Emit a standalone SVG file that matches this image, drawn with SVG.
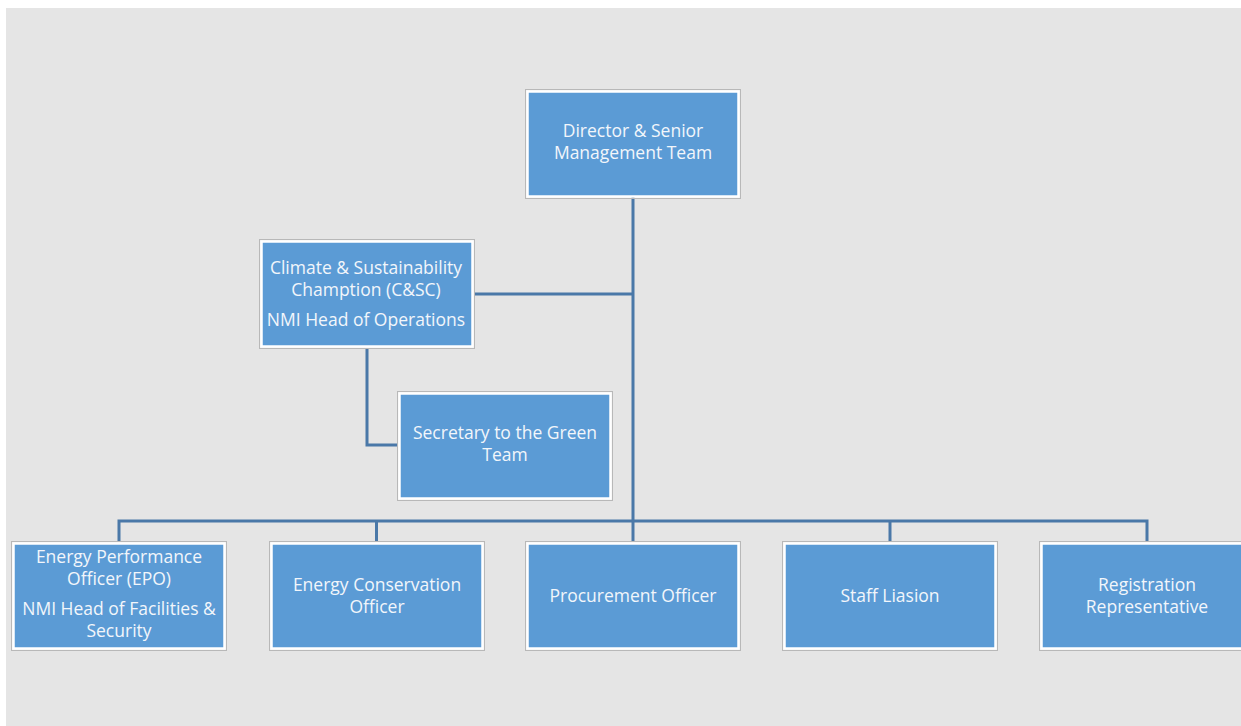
<svg xmlns="http://www.w3.org/2000/svg" width="1241" height="726" viewBox="0 0 1241 726">
<style>
.box{fill:#5b9bd5;stroke:#ffffff;stroke-width:2.5}
.frame{fill:none;stroke:#b8b8b8;stroke-width:1}
.t{font-family:"Open Sans","Liberation Sans",sans-serif;font-size:17.5px;fill:#f2f6fb;text-anchor:middle}
.c{fill:none;stroke:#4a78a8;stroke-width:3}
</style>
<rect x="0" y="0" width="1241" height="726" fill="#ffffff"/>
<rect x="6" y="8" width="1235" height="718" fill="#e5e5e5"/>
<g id="connectors">
<path class="c" d="M633 197 V521"/>
<path class="c" d="M474 294 H633"/>
<path class="c" d="M367 348 V445 H398"/>
<path class="c" d="M119 541 V521 H1147 V541"/>
<path class="c" d="M376.5 521 V541"/>
<path class="c" d="M633 521 V541"/>
<path class="c" d="M890 521 V541"/>
</g>
<g id="director">
<rect class="frame" x="525.5" y="89.5" width="215" height="109"/>
<rect class="box" x="527.5" y="91.5" width="211" height="105"/>
<text class="t" x="633" y="137">Director &amp; Senior</text>
<text class="t" x="633" y="159">Management Team</text>
</g>
<g id="climate">
<rect class="frame" x="259.5" y="239.5" width="215" height="109"/>
<rect class="box" x="261.5" y="241.5" width="211" height="105"/>
<text class="t" x="366" y="274">Climate &amp; Sustainability</text>
<text class="t" x="366" y="296">Chamption (C&amp;SC)</text>
<text class="t" x="366" y="326">NMI Head of Operations</text>
</g>
<g id="secretary">
<rect class="frame" x="397.5" y="391.5" width="215" height="109"/>
<rect class="box" x="399.5" y="393.5" width="211" height="105"/>
<text class="t" x="505" y="439">Secretary to the Green</text>
<text class="t" x="505" y="461">Team</text>
</g>
<g id="epo">
<rect class="frame" x="11.5" y="541.5" width="215" height="109"/>
<rect class="box" x="13.5" y="543.5" width="211" height="105"/>
<text class="t" x="119" y="563">Energy Performance</text>
<text class="t" x="119" y="585">Officer (EPO)</text>
<text class="t" x="119" y="615">NMI Head of Facilities &amp;</text>
<text class="t" x="119" y="637">Security</text>
</g>
<g id="eco">
<rect class="frame" x="269.5" y="541.5" width="215" height="109"/>
<rect class="box" x="271.5" y="543.5" width="211" height="105"/>
<text class="t" x="377" y="591">Energy Conservation</text>
<text class="t" x="377" y="613">Officer</text>
</g>
<g id="procurement">
<rect class="frame" x="525.5" y="541.5" width="215" height="109"/>
<rect class="box" x="527.5" y="543.5" width="211" height="105"/>
<text class="t" x="633" y="602">Procurement Officer</text>
</g>
<g id="staff">
<rect class="frame" x="782.5" y="541.5" width="215" height="109"/>
<rect class="box" x="784.5" y="543.5" width="211" height="105"/>
<text class="t" x="890" y="602">Staff Liasion</text>
</g>
<g id="registration">
<rect class="frame" x="1039.5" y="541.5" width="215" height="109"/>
<rect class="box" x="1041.5" y="543.5" width="211" height="105"/>
<text class="t" x="1147" y="591">Registration</text>
<text class="t" x="1147" y="613">Representative</text>
</g>
</svg>
